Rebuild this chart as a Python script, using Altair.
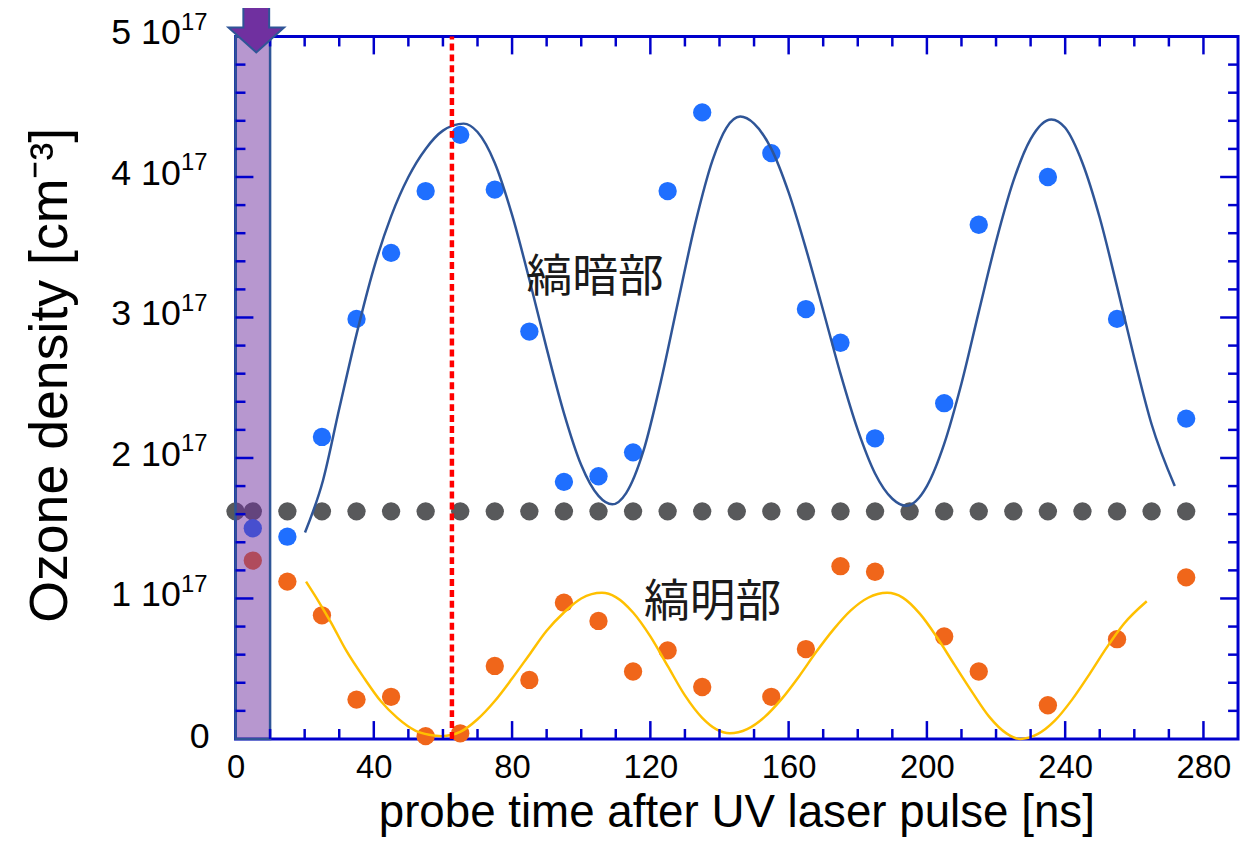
import altair as alt
import pandas as pd

# ---------------- data (values in units of 1e17 cm^-3) ----------------
gray_t = [0, 5, 15, 25, 35, 45, 55, 65, 75, 85, 95, 105, 115, 125, 135, 145,
          155, 165, 175, 185, 195, 205, 215, 225, 235, 245, 255, 265, 275]
gray_v = [1.62] * len(gray_t)

pt_t = [5, 15, 25, 35, 45, 55, 65, 75, 85, 95, 105, 115, 125, 135, 155, 165,
        175, 185, 205, 215, 235, 255, 275]
dark_v = [1.50, 1.44, 2.15, 2.99, 3.46, 3.90, 4.30, 3.91, 2.90, 1.83, 1.87, 2.04,
          3.90, 4.46, 4.17, 3.06, 2.82, 2.14, 2.39, 3.66, 4.00, 2.99, 2.28]
bright_v = [1.27, 1.12, 0.88, 0.28, 0.30, 0.02, 0.04, 0.52, 0.42, 0.97, 0.84, 0.48,
            0.63, 0.37, 0.30, 0.64, 1.23, 1.19, 0.73, 0.48, 0.24, 0.71, 1.15]

fit_dark_t = [20.1, 25.3, 30, 35, 40, 45, 50, 55, 60, 66, 70, 75, 80, 85, 90, 95, 100,
              105, 109, 113, 118, 123, 128, 133, 138, 142, 146, 150, 155, 160, 165,
              170, 175, 180, 185, 190, 194, 200, 205, 210, 215, 220, 225, 230, 236,
              240, 245, 250, 255, 260, 265, 271.7]
fit_dark_v = [1.47, 1.84, 2.35, 2.88, 3.35, 3.72, 4.00, 4.20, 4.33, 4.38, 4.32, 4.10,
              3.73, 3.27, 2.78, 2.32, 1.95, 1.73, 1.67, 1.75, 2.05, 2.54, 3.11, 3.67,
              4.12, 4.35, 4.43, 4.38, 4.20, 3.89, 3.49, 3.05, 2.60, 2.20, 1.89, 1.71,
              1.66, 1.80, 2.10, 2.53, 3.04, 3.54, 3.97, 4.27, 4.41, 4.35, 4.10, 3.71,
              3.22, 2.71, 2.24, 1.80]

fit_bright_t = [20.4, 24, 27.6, 32, 37.3, 42, 46.8, 52, 56, 59.7, 65, 70, 75, 80, 85,
                90, 95, 100, 106, 110, 115, 120, 125, 130, 135, 139, 143, 148, 153,
                158, 163, 168, 173, 178, 183, 188.5, 193, 198, 203, 208, 213, 218,
                223, 227, 232, 237, 242, 247, 252, 257, 263.6]
fit_bright_v = [1.12, 0.98, 0.83, 0.63, 0.43, 0.27, 0.15, 0.06, 0.03, 0.02, 0.05, 0.14,
                0.27, 0.43, 0.60, 0.77, 0.90, 1.00, 1.04, 1.01, 0.90, 0.73, 0.52, 0.31,
                0.15, 0.07, 0.04, 0.07, 0.155, 0.285, 0.445, 0.62, 0.78, 0.915, 1.005,
                1.04, 1.006, 0.89, 0.72, 0.527, 0.337, 0.159, 0.04, 0.0, 0.034, 0.13,
                0.28, 0.46, 0.65, 0.82, 0.98]

marker_t = [62.6]          # red dotted line
pulse_t = [0, 10]          # UV pulse band
arrow_t = [6]

x_major = [0, 40, 80, 120, 160, 200, 240, 280]
y_major = [0, 1, 2, 3, 4, 5]
label_dark = "縞暗部"
label_bright = "縞明部"
label_dark_pos = (104, 3.28)
label_bright_pos = (138, 0.97)
x_title = "probe time after UV laser pulse [ns]"
y_title = "Ozone density [cm⁻³]"

# ---------------- layout ----------------
W, H = 1009, 707
FRAME = "#0000CC"
FONT = "Liberation Sans"

XS = alt.Scale(domain=[0, 290], nice=False, zero=False)
YS = alt.Scale(domain=[0, 5], nice=False, zero=False)
XAX = alt.Axis(values=x_major, labelFontSize=33, labelFont=FONT, labelColor="black",
               ticks=False, domain=False, grid=False, labelPadding=13, title=None,
               labelFlush=False, labelOverlap=False)


def X(f):
    return alt.X(f, type="quantitative", scale=XS, axis=XAX)


def Y(f):
    return alt.Y(f, type="quantitative", scale=YS, axis=None)


gray_df = pd.DataFrame({"t": gray_t, "v": gray_v})
dark_df = pd.DataFrame({"t": pt_t, "v": dark_v})
bright_df = pd.DataFrame({"t": pt_t, "v": bright_v})
fitd_df = pd.DataFrame({"t": fit_dark_t, "v": fit_dark_v})
fitb_df = pd.DataFrame({"t": fit_bright_t, "v": fit_bright_v})

DOT = 340
gray = alt.Chart(gray_df).mark_circle(size=DOT, color="#58595B", opacity=1).encode(x=X("t"), y=Y("v"))
dark = alt.Chart(dark_df).mark_circle(size=DOT, color="#1F6FFF", opacity=1).encode(x=X("t"), y=Y("v"))
bright = alt.Chart(bright_df).mark_circle(size=DOT, color="#F0661A", opacity=1).encode(x=X("t"), y=Y("v"))

fitd = alt.Chart(fitd_df).mark_line(color="#2F5597", strokeWidth=2.5, interpolate="monotone").encode(
    x=X("t"), y=Y("v"), order="t:Q")
fitb = alt.Chart(fitb_df).mark_line(color="#FFC000", strokeWidth=2.5, interpolate="monotone").encode(
    x=X("t"), y=Y("v"), order="t:Q")

marker = alt.Chart(pd.DataFrame({"t": marker_t, "v0": [0], "v1": [5]})).mark_rule(
    color="#FF0000", strokeWidth=4.5, strokeDash=[7, 4]).encode(x=X("t"), y=Y("v0"), y2="v1")

pulse = alt.Chart(pd.DataFrame({"t0": [pulse_t[0]], "t1": [pulse_t[1]], "v0": [0], "v1": [5]})).mark_rect(
    fill="#7030A0", fillOpacity=0.5, stroke="#2F5597", strokeWidth=2.5, strokeOpacity=1).encode(
    x=X("t0"), x2="t1", y=Y("v0"), y2="v1")

arrow_path = "M-0.464,-0.893 L0.464,-0.893 L0.464,0 L1,0 L0,0.893 L-1,0 L-0.464,0 Z"
arrow = alt.Chart(pd.DataFrame({"t": arrow_t})).mark_point(
    shape=arrow_path, size=3136, filled=True, fill="#7030A0", stroke="#2F5597",
    strokeWidth=2, opacity=1, fillOpacity=1).encode(x=X("t"), y=alt.value(-9))

# ticks (inward, on all four sides)
x_minor = [v for v in range(10, 290, 10) if v % 40 != 0]
x_maj_in = [v for v in x_major if 0 < v < 290]
y_minor = [round(i * 0.2, 1) for i in range(1, 25) if i % 5 != 0]
y_maj_in = [v for v in y_major if 0 < v < 5]

tick_layers = []
for vals, L in [(x_minor, 10), (x_maj_in, 18)]:
    df = pd.DataFrame({"p": vals})
    base = alt.Chart(df).mark_rule(color=FRAME, strokeWidth=2.5)
    tick_layers.append(base.encode(x=X("p"), y=alt.value(H), y2=alt.value(H - L)))
    tick_layers.append(base.encode(x=X("p"), y=alt.value(0), y2=alt.value(L)))
for vals, L in [(y_minor, 10), (y_maj_in, 18)]:
    df = pd.DataFrame({"p": vals})
    base = alt.Chart(df).mark_rule(color=FRAME, strokeWidth=2.5)
    tick_layers.append(base.encode(y=Y("p"), x=alt.value(0), x2=alt.value(L)))
    tick_layers.append(base.encode(y=Y("p"), x=alt.value(W), x2=alt.value(W - L)))

# y tick labels: "N 10" + superscript "17"
ylab_df = pd.DataFrame({"p": [v for v in y_major if v > 0],
                        "txt": [f"{v} 10" for v in y_major if v > 0]})
ylab = alt.Chart(ylab_df).mark_text(align="right", baseline="middle", fontSize=36, font=FONT,
                                    color="black", dy=-3).encode(
    y=Y("p"), x=alt.value(-55), text="txt:N")
ysup = alt.Chart(ylab_df).mark_text(align="left", baseline="middle", fontSize=24, font=FONT,
                                    color="black", dy=-14).encode(
    y=Y("p"), x=alt.value(-55), text=alt.value("17"))
yzero = alt.Chart(pd.DataFrame({"p": [0]})).mark_text(
    align="right", baseline="middle", fontSize=36, font=FONT, color="black", dy=-2).encode(
    y=Y("p"), x=alt.value(-26), text=alt.value("0"))

ytitle = alt.Chart(pd.DataFrame({"s": [y_title]})).mark_text(
    angle=270, align="center", baseline="middle", fontSize=54, font=FONT, color="black").encode(
    x=alt.value(-186), y=alt.value(341), text="s:N")
xtitle = alt.Chart(pd.DataFrame({"s": [x_title]})).mark_text(
    align="center", baseline="alphabetic", fontSize=46, font=FONT, color="black").encode(
    x=alt.value(W / 2), y=alt.value(796), text="s:N")

jp_df = pd.DataFrame({"t": [label_dark_pos[0], label_bright_pos[0]],
                      "v": [label_dark_pos[1], label_bright_pos[1]],
                      "s": [label_dark, label_bright]})
jp = alt.Chart(jp_df).mark_text(align="center", baseline="middle", fontSize=46,
                                font="Noto Sans CJK JP", color="#1a1a1a").encode(
    x=X("t"), y=Y("v"), text="s:N")

chart = alt.layer(
    gray, dark, bright, fitd, fitb, marker, pulse, *tick_layers, arrow,
    ylab, ysup, yzero, ytitle, xtitle, jp
).properties(
    width=W, height=H,
    autosize=alt.AutoSizeParams(type="none"),
    padding={"left": 229, "top": 26, "right": 3, "bottom": 99},
    background="white",
).configure_view(stroke=FRAME, strokeWidth=3)

chart.save("out.html", embed_options={"renderer": "svg", "actions": False})
